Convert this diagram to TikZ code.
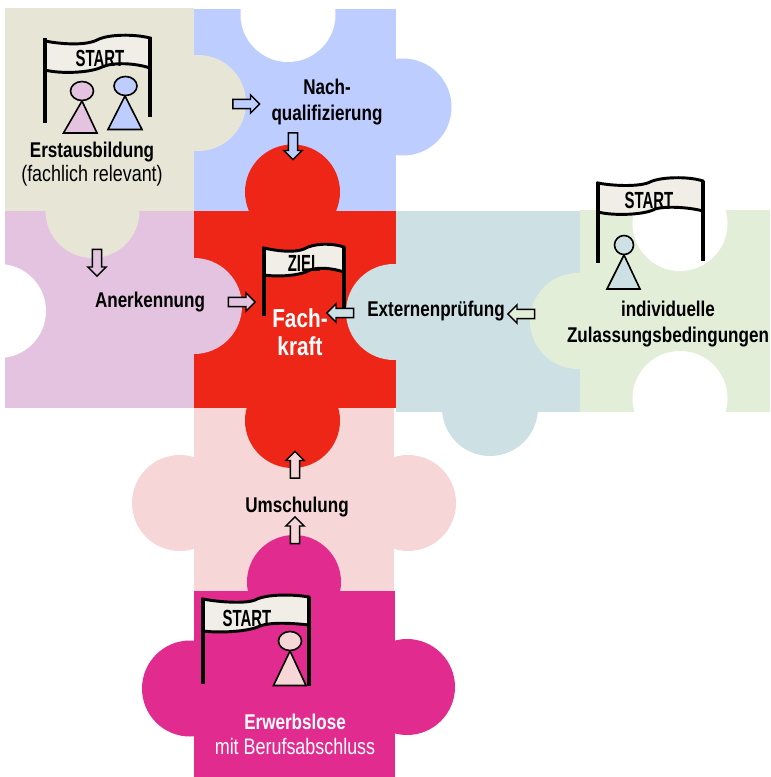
\documentclass[tikz,border=0pt]{standalone}
\usepackage{fontspec}
\setmainfont[FakeStretch=0.8]{Liberation Sans}
\newfontfamily\flagfont[FakeStretch=0.64]{Liberation Sans}
\usetikzlibrary{shapes.arrows}

\definecolor{colYellow}{HTML}{E7E6D6}
\definecolor{colBlue}{HTML}{BDCDFF}
\definecolor{colRed}{HTML}{EE2617}
\definecolor{colLilac}{HTML}{E3C3DF}
\definecolor{colTeal}{HTML}{CDE1E5}
\definecolor{colGreen}{HTML}{E2EED8}
\definecolor{colPink}{HTML}{F6D6D6}
\definecolor{colMagenta}{HTML}{E12B8E}
\definecolor{colBanner}{HTML}{F1EEE7}

\tikzset{
  every picture/.style={line width=0.75pt},
  pole/.style={line width=3.4pt},
  banner/.style={fill=colBanner, line width=2.2pt},
  figure/.style={line width=1.2pt},
  label/.style={inner sep=0pt, align=center, font=\fontsize{16}{19}\selectfont\bfseries},
  thinlabel/.style={inner sep=0pt, align=center, font=\fontsize{16.8}{19}\selectfont},
  flagtext/.style={inner sep=0pt, font=\fontsize{17.5}{18}\selectfont\flagfont\bfseries},
  blockarrow/.style={draw, single arrow, line width=1.1pt, inner sep=2.9pt,
    minimum height=20pt, minimum width=13.5pt, single arrow head extend=3.4pt, anchor=center},
}

\begin{document}
\begin{tikzpicture}[x=0.75pt,y=0.75pt,yscale=-1,xscale=1]
\useasboundingbox (0,0) rectangle (770,777);

% blue
\fill [colBlue] (194,9) rectangle (396,211);
\fill [colBlue] (403,107) circle (48.5);
\fill [white] (288,14.5) circle (47.5);
% pink
\fill [colPink] (194,408) rectangle (394,591);
\fill [colPink] (180,503) circle (48);
\fill [colPink] (408,503) circle (48);
% magenta
\fill [colMagenta] (194,591) rectangle (395,777);
\fill [colMagenta] (190,688.5) circle (48);
\fill [colMagenta] (407,687) circle (48);
\fill [colMagenta] (294,582) circle (47);
% red
\fill [colRed] (194,211) rectangle (396,408);
\fill [colRed] (292.5,192) circle (47.5);
\fill [colRed] (292.5,420.5) circle (47.5);
% lilac
\fill [colLilac] (5,211) rectangle (194,408);
\fill [colLilac] (194,306) circle (48);
\fill [white] (-1,311) circle (47);
% yellow
\fill [colYellow] (5,8) rectangle (194,211);
\fill [colYellow] (198,103) circle (48);
\fill [colYellow] (92.5,211) circle (47);
% teal
\fill [colTeal] (396,211) rectangle (590,412);
\fill [colTeal] (394,312) circle (48);
\fill [colTeal] (490,408) circle (48);
% green
\fill [colGreen] (580,210) rectangle (770,412);
\fill [colGreen] (578,321) circle (48);
\fill [white] (680,223.5) circle (47.5);
\fill [white] (680,398.5) circle (47.5);

% flag yellow
\draw [banner] (45,41) .. controls (60,44) and (85,46) .. (97,40) .. controls (108,34) and (135,34) .. (150,38) -- (150,68) .. controls (135,63) and (113,62) .. (102,67) .. controls (90,73) and (60,74) .. (45,70) -- cycle ;
\draw [pole] (45,38) -- (45,123) ;
\draw [pole] (150,37) -- (150,117) ;
% flag red
\draw [banner] (264,248) .. controls (277,251) and (294,253) .. (304,249) .. controls (314,243) and (332,243) .. (344,247) -- (344,272) .. controls (332,268) and (318,267) .. (310,270) .. controls (300,276) and (277,277) .. (264,275) -- cycle ;
\draw [pole] (264,247) -- (264,316) ;
\draw [pole] (344,247) -- (344,308) ;
% flag magenta
\draw [banner] (203,599) .. controls (218,602) and (245,604) .. (255,600) .. controls (266,594) and (292,594) .. (309,597) -- (309,625) .. controls (292,623) and (270,622) .. (260,626) .. controls (248,632) and (218,633) .. (203,631) -- cycle ;
\draw [pole] (203,598) -- (203,684) ;
\draw [pole] (309,597) -- (309,686) ;
% flag green
\draw [banner] (598,183) .. controls (613,186) and (640,187) .. (650,182) .. controls (660,177) and (688,176) .. (703,181) -- (703,211) .. controls (688,207) and (665,206) .. (655,209) .. controls (645,215) and (613,216) .. (598,212) -- cycle ;
\draw [pole] (598,182) -- (598,263) ;
\draw [pole] (703,181) -- (703,261) ;

% figures
\draw [figure, fill=colLilac] (82,101) -- (97,133) -- (63.5,133) -- cycle ;
\draw [figure, fill=colLilac] (82,91) ellipse (11.5 and 9.5);
\draw [figure, fill=colBlue] (125,96) -- (142,129.5) -- (108,129.5) -- cycle ;
\draw [figure, fill=colBlue] (125.5,86) ellipse (11.5 and 9.5);
\draw [figure, fill=colPink] (290,651) -- (306,685.5) -- (273.5,685.5) -- cycle ;
\draw [figure, fill=colPink] (290,641) ellipse (11.5 and 9.5);
\draw [figure, fill=colTeal] (624,255) -- (640,289) -- (607,289) -- cycle ;
\draw [figure, fill=colTeal] (624,245) circle (9.5);

% arrows
\node (arrowBlueRight) [blockarrow, fill=colBlue] at (244,104) {};
\node (arrowBlueDown) [blockarrow, fill=colBlue, shape border rotate=270] at (293,144) {};
\node (arrowYellowDown) [blockarrow, fill=colLilac, shape border rotate=270] at (97,260.5) {};
\node (arrowLilacRight) [blockarrow, fill=colLilac] at (239.5,302) {};
\node (arrowTealLeft) [blockarrow, fill=colTeal, shape border rotate=180] at (342.5,313) {};
\node (arrowGreenLeft) [blockarrow, fill=colGreen, shape border rotate=180] at (523.5,314) {};
\node (arrowPinkUp) [blockarrow, fill=colPink, shape border rotate=90] at (295,467) {};
\node (arrowMagentaUp) [blockarrow, fill=colPink, shape border rotate=90] at (295,532.5) {};

% texts
\node (startYellow) [flagtext] at (100,58) {START};
\node (startGreen) [flagtext] at (649,200) {START};
\node (startMagenta) [flagtext] at (247,618) {START};
\node (ziel) [flagtext] at (304,263) {ZIEL};
\node (erstausbildung) [label] at (92,152) {Erstausbildung};
\node (fachlich) [thinlabel] at (92,176) {(fachlich relevant)};
\node (nachqualifizierung) [label] at (327,102) {Nach-\\qualifizierung};
\node (anerkennung) [label] at (150,302) {Anerkennung};
\node (fachkraft) [label, text=white, font=\fontsize{19.5}{21}\selectfont\bfseries] at (300,332) {Fach-\\kraft};
\node (externenpruefung) [label] at (436,311) {Externenprüfung};
\node (individuelle) [label] at (668,324) {individuelle\\Zulassungsbedingungen};
\node (umschulung) [label] at (297,507) {Umschulung};
\node (erwerbslose) [label, text=white] at (295,722) {Erwerbslose};
\node (berufsabschluss) [thinlabel, text=white] at (295,746) {mit Berufsabschluss};

\end{tikzpicture}
\end{document}
